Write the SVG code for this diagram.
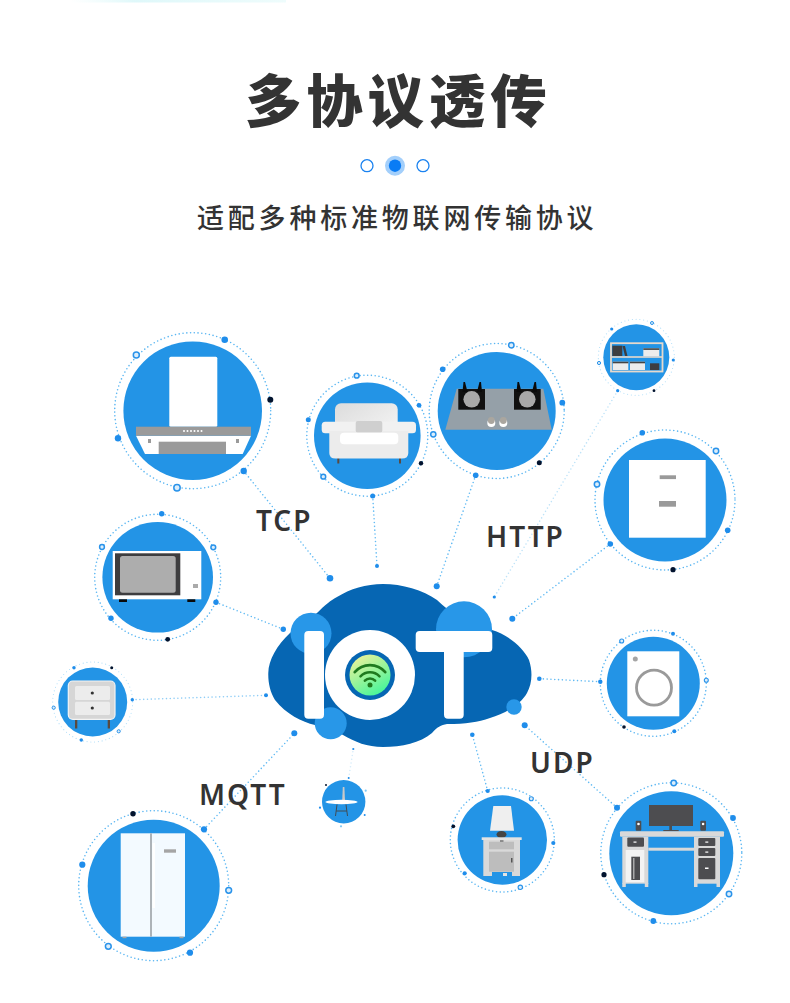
<svg xmlns="http://www.w3.org/2000/svg" width="790" height="1003" viewBox="0 0 790 1003">
<style>
.bg{fill:#2394e6}
.ring{fill:none;stroke:#5ab6f2;stroke-width:1.6;stroke-dasharray:0 3.8;stroke-linecap:round}
.d{fill:#1f8deb}
.k{fill:#02132e}
.h{fill:#dceefb;stroke:#2a93ea;stroke-width:1.5}
.line{fill:none;stroke:#63bbf3;stroke-width:1.6;stroke-dasharray:0 3.8;stroke-linecap:round}
.w{fill:#fff}
.g{fill:#9a9a9a}
.dk{fill:#4d4d50}
.lg{fill:#d9d9d9}
.title{font-family:"Noto Sans CJK SC",sans-serif;fill:#333}
.lab{font-family:"Noto Sans","Open Sans",sans-serif;font-weight:600;font-size:28px;letter-spacing:2px;fill:#333}
</style>
<defs>
<linearGradient id="wifi" x1="0.2" y1="0" x2="0.8" y2="1"><stop offset="0" stop-color="#eef39a"/><stop offset="1" stop-color="#3df59a"/></linearGradient>
<linearGradient id="sofa" x1="0" y1="0" x2="1" y2="1"><stop offset="0" stop-color="#dcdcdc"/><stop offset="1" stop-color="#f8f8f8"/></linearGradient>
<linearGradient id="top" x1="0" y1="0" x2="1" y2="0"><stop offset="0" stop-color="#e6fbfb" stop-opacity="0"/><stop offset="0.3" stop-color="#dff8fa"/><stop offset="1" stop-color="#eefcfc"/></linearGradient>
</defs>
<rect width="790" height="1003" fill="#fff"/>
<rect x="70" y="0" width="216" height="2.5" fill="url(#top)"/>

<g id="heading">
<text class="title" x="245" y="122" font-size="56.5" font-weight="900" letter-spacing="4.8">多协议透传</text>
<circle cx="367" cy="165.7" r="6" fill="#fff" stroke="#1a82f0" stroke-width="1.3"/>
<circle cx="395" cy="165.7" r="10" fill="#a3cffb"/>
<circle cx="395" cy="165.7" r="6.2" fill="#0a7cf5"/>
<circle cx="423" cy="165.7" r="6" fill="#fff" stroke="#1a82f0" stroke-width="1.3"/>
<text class="title" x="197" y="228" font-size="27" font-weight="500" letter-spacing="3.8">适配多种标准物联网传输协议</text>
</g>

<g id="connectors">
<path class="line" d="M243.7 471L330 578.3"/>
<path class="line" d="M372.7 496L377 566"/>
<path class="line" d="M475.7 475.3L436.7 586.3"/>
<path class="line" d="M617.7 390.7L494.3 597" style="stroke:#bfe3f8"/>
<path class="line" d="M610.3 544L512.3 618.7"/>
<path class="line" d="M216 602.3L283.3 629.3"/>
<path class="line" d="M132.3 699.7L266 695.3" style="stroke:#8fcdf6"/>
<path class="line" d="M600.3 681.7L539.3 678.7"/>
<path class="line" d="M617 807.7L524.7 725.3"/>
<path class="line" d="M487.7 791L472.3 734.7"/>
<path class="line" d="M204 829.3L294.3 733.3"/>
<path class="line" d="M348.7 778L353.3 749" style="stroke:#d5ecfa"/>
<circle class="d" cx="330" cy="578.3" r="3.3"/>
<circle class="d" cx="377" cy="566" r="2"/>
<circle class="d" cx="436.7" cy="586.3" r="3"/>
<circle class="d" cx="494.3" cy="597" r="1.6"/>
<circle class="d" cx="512.3" cy="618.7" r="3"/>
<circle class="d" cx="283.3" cy="629.3" r="2.7"/>
<circle class="d" cx="266" cy="695.3" r="2"/>
<circle class="d" cx="539.3" cy="678.7" r="2.3"/>
<circle class="d" cx="524.7" cy="725.3" r="3"/>
<circle class="d" cx="472.3" cy="734.7" r="2.3"/>
<circle class="d" cx="294.3" cy="733.3" r="3"/>
<circle class="d" cx="353.3" cy="749" r="1.1"/>
</g>

<g id="cloud">
<path fill="#0666b3" d="M268.3 673C268.5 660 277 645 290 633C298 626 308 619 317 613C325 605 331 600 337 597C350 589 366 584 383 584C402 584 423 590 437 600C450 613 470 626 492 630C507 634 524 648 529 660C533 672 532 684 527 693C521 704 505 714 490 718C478 722 466 724 447 724C441 725 437 727 432 733C420 743 402 747 383 747C367 747 355 742 343 735C334 729 324 727 315 725C302 722 286 714 275 700C270 692 268 682 268.3 673Z"/>
<circle cx="311" cy="633.3" r="20.5" fill="#2897e8"/>
<circle cx="464" cy="629.3" r="28" fill="#2897e8"/>
<circle cx="330.7" cy="723.3" r="16" fill="#2897e8"/>
<circle cx="514" cy="707" r="7.7" fill="#2897e8"/>
<rect class="w" x="304.3" y="631" width="19.7" height="87.7" rx="4"/>
<circle class="w" cx="370" cy="675" r="45"/>
<circle cx="370" cy="675" r="25" fill="#0666b3"/>
<circle cx="370" cy="675" r="20.5" fill="url(#wifi)"/>
<g fill="none" stroke="#1f7a1f" stroke-width="2.6" stroke-linecap="round">
<path d="M364.9 680.7A7 7 0 0 1 375.1 680.7"/>
<path d="M360.5 676.3A13.3 13.3 0 0 1 379.5 676.3"/>
<path d="M354.7 672.2A20 20 0 0 1 385.3 672.2"/>
</g>
<circle cx="370" cy="685" r="2.5" fill="#1f7a1f"/>
<rect class="w" x="415.7" y="631" width="76.6" height="21" rx="4"/>
<rect class="w" x="444" y="631" width="19.7" height="87.7" rx="4"/>
</g>

<g id="node-hood">
<circle class="ring" cx="192.7" cy="410.7" r="78"/>
<circle class="bg" cx="192.7" cy="410.7" r="69.3"/>
<rect class="w" x="169.3" y="356.7" width="48" height="70" rx="1.5"/>
<path class="w" d="M136 435.7H251L242.7 454H145Z"/>
<rect class="g" x="136" y="426.7" width="115" height="9"/>
<rect class="g" x="158.7" y="441.7" width="67.3" height="12.3"/>
<g class="w"><circle cx="184" cy="431" r="1"/><circle cx="187.5" cy="431" r="1"/><circle cx="191" cy="431" r="1"/><circle cx="194.5" cy="431" r="1"/><circle cx="198" cy="431" r="1"/><circle cx="201.5" cy="431" r="1"/></g>
<rect class="g" x="148" y="439" width="3" height="4"/><rect class="g" x="236" y="439" width="3" height="4"/>
<circle class="h" cx="136.3" cy="355" r="3"/><circle class="d" cx="224.7" cy="339.7" r="3.3"/><circle class="k" cx="270.3" cy="399.7" r="3"/><circle class="d" cx="243.7" cy="471" r="3.2"/><circle class="h" cx="177" cy="487.7" r="3.2"/><circle class="d" cx="118" cy="438.3" r="3.2"/>
</g>

<g id="node-sofa">
<circle class="ring" cx="367.3" cy="435.7" r="60.5"/>
<circle class="bg" cx="367.3" cy="435.7" r="53.3"/>
<rect x="337.3" y="458" width="2" height="5.5" fill="#5a4a40"/><rect x="399" y="458" width="2" height="5.5" fill="#5a4a40"/>
<rect x="335" y="403.3" width="62.7" height="40" rx="6" fill="url(#sofa)"/>
<rect x="321.7" y="421.7" width="94.3" height="11.6" rx="3.5" fill="#f1f1f1"/>
<path fill="#ececec" d="M329.3 431H408.3V453Q408.3 458.5 402 458.5H335.5Q329.3 458.5 329.3 453Z"/>
<rect x="355.7" y="421" width="26.6" height="11.5" rx="2" fill="#cfcfcf"/>
<rect class="w" x="340" y="432.7" width="58.3" height="11.6" rx="4"/>
<circle class="h" cx="356.7" cy="375.7" r="2.4"/><circle class="d" cx="419" cy="405.3" r="2.4"/><circle class="k" cx="421" cy="463.3" r="2.2"/><circle class="d" cx="372.7" cy="496" r="2.5"/><circle class="h" cx="323.3" cy="476.7" r="2.4"/><circle class="d" cx="308.3" cy="419.7" r="2.5"/>
</g>

<g id="node-stove">
<circle class="ring" cx="496.7" cy="411" r="67.5"/>
<circle class="bg" cx="496.7" cy="411" r="59"/>
<path d="M456.7 388.7H543.3L551.7 429.7H445.3Z" fill="#95a0a8"/>
<rect x="458.3" y="389" width="26.7" height="20.7" fill="#111"/>
<rect x="514" y="389" width="26.7" height="20.7" fill="#111"/>
<circle cx="471.7" cy="399.3" r="8.3" fill="#a9a9a9"/><circle cx="527.3" cy="399.3" r="8.3" fill="#a9a9a9"/>
<g fill="#0a0a0a"><path d="M462.5 392L463.5 382L465 382L467.5 392Z"/><path d="M477 392L479.5 382L481 382L482 392Z"/><path d="M516.5 392L517.5 382L519 382L521.5 392Z"/><path d="M532 392L534.5 382L536 382L537 392Z"/></g>
<circle class="w" cx="491.3" cy="423" r="4"/><circle class="w" cx="503.3" cy="423" r="4"/>
<circle cx="491.3" cy="420.5" r="3.4" fill="#aaa69f"/><circle cx="503.3" cy="420.5" r="3.4" fill="#aaa69f"/>
<circle class="h" cx="511.3" cy="345.3" r="2.7"/><circle class="d" cx="442.7" cy="369.3" r="2.8"/><circle class="d" cx="562.3" cy="402.7" r="2.9"/><circle class="k" cx="539.3" cy="462.7" r="2.5"/><circle class="d" cx="475.7" cy="475.3" r="2.8"/><circle class="h" cx="433.3" cy="434.3" r="2.6"/>
</g>

<g id="node-shelf">
<circle class="ring" cx="636.3" cy="357.3" r="38" style="stroke:#a9dbf8;stroke-width:1.1"/>
<circle class="bg" cx="636.3" cy="357.3" r="33"/>
<rect x="611" y="343.2" width="51.5" height="28.3" fill="none" stroke="#e6d9cd" stroke-width="1.8"/>
<rect x="611" y="356.2" width="51.5" height="1.6" fill="#e6d9cd"/>
<rect x="612.3" y="345.7" width="10" height="10.3" fill="#3d3d40"/><path d="M622.5 346L625 346L627.5 356H625Z" fill="#3d3d40"/>
<rect x="643.3" y="348.3" width="16" height="8" fill="#ececec"/><rect x="643.3" y="348.3" width="16" height="1.6" fill="#444"/>
<rect x="612.7" y="361.7" width="15.6" height="8.3" fill="#ececec"/><rect x="612.7" y="361.7" width="15.6" height="1.6" fill="#444"/>
<rect x="630" y="361.7" width="15" height="8.3" fill="#ececec"/><rect x="630" y="361.7" width="15" height="1.6" fill="#444"/>
<rect x="650" y="363.3" width="9.3" height="6.7" fill="#3d3d40"/>
<circle class="h" cx="652" cy="323" r="1.5" style="stroke-width:1"/><circle class="d" cx="611.7" cy="329" r="1.6"/><circle class="d" cx="673.3" cy="360" r="1.6"/><circle class="k" cx="654" cy="390.7" r="1.4"/><circle class="d" cx="617.7" cy="390.7" r="1.6"/><circle class="h" cx="599" cy="363" r="1.6" style="stroke-width:1"/>
</g>

<g id="node-cabinet">
<circle class="ring" cx="665" cy="500" r="70"/>
<circle class="bg" cx="665" cy="500" r="61.5"/>
<rect class="w" x="629" y="460" width="76.7" height="77.7"/>
<rect class="g" x="659.7" y="475.3" width="16.3" height="3.8"/>
<rect class="g" x="659" y="501" width="17" height="5.7"/>
<circle class="d" cx="642.3" cy="432.7" r="2.8"/><circle class="h" cx="716" cy="451" r="2.7"/><circle class="d" cx="727.7" cy="530.3" r="2.8"/><circle class="k" cx="673" cy="569.7" r="2.6"/><circle class="d" cx="610.3" cy="544" r="2.8"/><circle class="h" cx="597" cy="484.3" r="2.7"/>
</g>

<g id="node-microwave">
<circle class="ring" cx="157.7" cy="577.3" r="63"/>
<circle class="bg" cx="157.7" cy="577.3" r="55.3"/>
<rect class="w" x="112.7" y="551" width="88.6" height="48.3"/>
<rect x="115" y="553.3" width="65.3" height="42" fill="#3d3d3f"/>
<rect x="120" y="556" width="55.7" height="36.7" rx="2.5" fill="#adadad"/>
<rect x="193" y="584" width="5" height="4" fill="#aaa"/>
<rect x="119" y="599.3" width="8" height="2.7" fill="#0a0a0a"/><rect x="187.3" y="599.3" width="8" height="2.7" fill="#0a0a0a"/>
<circle class="d" cx="161.7" cy="513.7" r="2.7"/><circle class="h" cx="213.3" cy="547.3" r="2.4"/><circle class="d" cx="216" cy="602.3" r="2.7"/><circle class="k" cx="167.7" cy="639.3" r="2.4"/><circle class="d" cx="111" cy="618.3" r="2.7"/><circle class="h" cx="102" cy="547" r="2.4"/>
</g>

<g id="node-nightstand">
<circle class="ring" cx="92.7" cy="702" r="40" style="stroke:#a9dbf8;stroke-width:1.1"/>
<circle class="bg" cx="92.7" cy="702" r="34.5"/>
<rect x="75" y="719" width="2.3" height="9.5" fill="#5a4a40"/><rect x="107.7" y="719" width="2.3" height="9.5" fill="#5a4a40"/>
<rect x="68.3" y="681" width="46.7" height="38.3" rx="4.5" fill="#d6d6d6" stroke="#f4f4f4" stroke-width="1.2"/>
<rect x="75" y="686" width="35" height="14" rx="1.5" fill="#ececec"/><rect x="75" y="701.7" width="35" height="13.3" rx="1.5" fill="#ececec"/>
<circle cx="92.3" cy="693" r="1.6" fill="#333"/><circle cx="92.3" cy="708" r="1.6" fill="#333"/>
<circle class="d" cx="74" cy="667.7" r="1.7"/><circle class="k" cx="111.7" cy="667.7" r="1.5"/><circle class="d" cx="132.3" cy="699.7" r="1.7"/><circle class="h" cx="118.7" cy="731.3" r="1.6" style="stroke-width:1"/><circle class="d" cx="81.3" cy="740" r="1.7"/><circle class="h" cx="53.7" cy="707.7" r="1.6" style="stroke-width:1"/>
</g>

<g id="node-washer">
<circle class="ring" cx="653.3" cy="683.3" r="53"/>
<circle class="bg" cx="653.3" cy="683.3" r="46.5"/>
<rect class="w" x="627.3" y="651.3" width="52" height="65"/>
<circle cx="635.3" cy="659" r="2.5" fill="#a5a5a5"/>
<circle cx="654" cy="687.7" r="17.5" fill="none" stroke="#9a9a9a" stroke-width="2.8"/>
<circle class="h" cx="621.7" cy="641" r="2" style="stroke-width:1.1"/><circle class="d" cx="673" cy="633.7" r="2"/><circle class="h" cx="706.3" cy="680.3" r="2" style="stroke-width:1.1"/><circle class="d" cx="674.3" cy="731.3" r="2"/><circle class="k" cx="624" cy="727" r="1.8"/><circle class="d" cx="600.3" cy="681.7" r="2.2"/>
</g>

<g id="node-desk">
<circle class="ring" cx="671.3" cy="853.3" r="70.5"/>
<circle class="bg" cx="671.3" cy="853.3" r="62"/>
<rect class="dk" x="649" y="805" width="44" height="21"/>
<rect class="dk" x="669.3" y="826" width="2.7" height="4"/><rect class="dk" x="663.3" y="830" width="15.4" height="1.4"/>
<rect class="dk" x="635.7" y="820.7" width="5.6" height="10" rx="1"/><rect class="dk" x="700.3" y="820.7" width="5.7" height="10" rx="1"/>
<circle class="w" cx="638.5" cy="824" r="1.3"/><circle class="w" cx="703.1" cy="824" r="1.3"/>
<rect class="lg" x="620" y="831.3" width="104" height="5.4" rx="1"/>
<rect class="lg" x="622.3" y="836.7" width="26" height="47"/><rect class="lg" x="622.3" y="883" width="3.5" height="4"/><rect class="lg" x="644.8" y="883" width="3.5" height="4"/>
<rect class="lg" x="694" y="836.7" width="26" height="47"/><rect class="lg" x="694" y="883" width="3.5" height="4"/><rect class="lg" x="716.5" y="883" width="3.5" height="4"/>
<rect class="lg" x="648.3" y="847.7" width="45.7" height="3"/>
<rect class="dk" x="627.3" y="837.6" width="16.7" height="9.2" rx="1"/>
<rect x="625.7" y="850" width="18.6" height="32.3" fill="#f3f3f3"/>
<rect class="dk" x="631.3" y="856.7" width="8.7" height="23.3"/><rect x="633" y="858" width="1.5" height="21" fill="#aaa"/>
<rect class="dk" x="698.3" y="838" width="17" height="8" rx="1"/><rect class="dk" x="698.3" y="848" width="17" height="8" rx="1"/><rect class="dk" x="698.3" y="858" width="17" height="21.3" rx="1"/>
<rect class="w" x="633.5" y="841.5" width="3" height="1.2"/><rect class="w" x="705.3" y="841.5" width="3" height="1.2"/><rect class="w" x="705.3" y="851.5" width="3" height="1.2"/><rect class="w" x="705" y="867.5" width="3.5" height="1.5"/>
<circle class="h" cx="673.7" cy="783" r="2.7"/><circle class="d" cx="733" cy="818" r="2.9"/><circle class="h" cx="729" cy="894" r="2.7"/><circle class="d" cx="653.3" cy="921" r="2.9"/><circle class="k" cx="604" cy="874.7" r="2.6"/><circle class="d" cx="617" cy="807.7" r="3"/>
</g>

<g id="node-lamp">
<circle class="ring" cx="502.3" cy="840" r="52"/>
<circle class="bg" cx="502.3" cy="840" r="44.7"/>
<path d="M493.3 806H511L514 830.7H490Z" fill="#efefef"/>
<ellipse cx="501.5" cy="834.5" rx="5" ry="3.5" fill="#444"/>
<rect class="lg" x="483.3" y="840" width="36.7" height="36"/>
<rect x="481.7" y="837.3" width="40" height="2.7" fill="#e3e3e3"/>
<rect x="489" y="841.7" width="25" height="7.6" fill="#bdbdbd"/>
<rect x="489" y="851.7" width="25" height="20" fill="#bdbdbd"/>
<rect x="511" y="858" width="1.5" height="4.5" fill="#555"/><rect x="500" y="840.5" width="3.5" height="1" fill="#444"/>
<rect x="492" y="872" width="20" height="5" class="bg"/><rect x="503" y="873" width="4" height="3" fill="#e3e3e3"/>
<circle class="d" cx="487.7" cy="791" r="2.1"/><circle class="h" cx="531.3" cy="798.7" r="2" style="stroke-width:1.1"/><circle class="d" cx="553.3" cy="843" r="2.1"/><circle class="h" cx="520.3" cy="887.3" r="2.2" style="stroke-width:1.1"/><circle class="d" cx="464.7" cy="873.3" r="2.1"/><circle class="k" cx="453.3" cy="826.3" r="1.9"/>
</g>

<g id="node-fridge">
<circle class="ring" cx="153.7" cy="885.7" r="75"/>
<circle class="bg" cx="153.7" cy="885.7" r="66"/>
<rect x="120.7" y="833.3" width="64.3" height="103.4" fill="#f3faff"/>
<rect x="150" y="833.3" width="2" height="103.4" fill="#adb3b8"/>
<rect x="152.5" y="843" width="2.5" height="65" fill="#fff"/>
<rect x="164" y="849.3" width="12" height="3.4" fill="#a5a5a5"/>
<rect x="122.5" y="936.7" width="4" height="1.5" fill="#a5a5a5"/><rect x="179.5" y="936.7" width="4" height="1.5" fill="#a5a5a5"/>
<circle class="k" cx="133" cy="813.7" r="2.7"/><circle class="d" cx="204" cy="829.3" r="3.1"/><circle class="h" cx="228.7" cy="890.3" r="2.9"/><circle class="d" cx="190" cy="952.7" r="3.1"/><circle class="h" cx="108.3" cy="946.3" r="2.9"/><circle class="d" cx="82.3" cy="864.7" r="3.1"/>
</g>

<g id="node-table">
<circle class="bg" cx="343.7" cy="801.7" r="21.7"/>
<path d="M342.2 801L342.8 787H344.4L345 801Z" fill="#c9c9c9"/>
<ellipse class="w" cx="341.5" cy="802" rx="16" ry="2.2"/>
<path d="M337 804.5L335.5 816M346 804.5L347.5 816M336.2 811H346.8" fill="none" stroke="#444" stroke-width="0.9"/>
<circle class="d" cx="348.7" cy="778" r="1"/><circle class="k" cx="326" cy="785" r="1"/><circle cx="365.7" cy="790.7" r="1.1" fill="#7fc8f5"/><circle class="d" cx="364.7" cy="815" r="1"/><circle cx="341" cy="826.3" r="1.1" fill="#7fc8f5"/><circle class="d" cx="320" cy="807.7" r="1.1"/>
</g>

<g id="labels">
<text class="lab" x="256" y="531">TCP</text>
<text class="lab" x="486" y="547">HTTP</text>
<text class="lab" x="530" y="773">UDP</text>
<text class="lab" x="199" y="805">MQTT</text>
</g>
</svg>
